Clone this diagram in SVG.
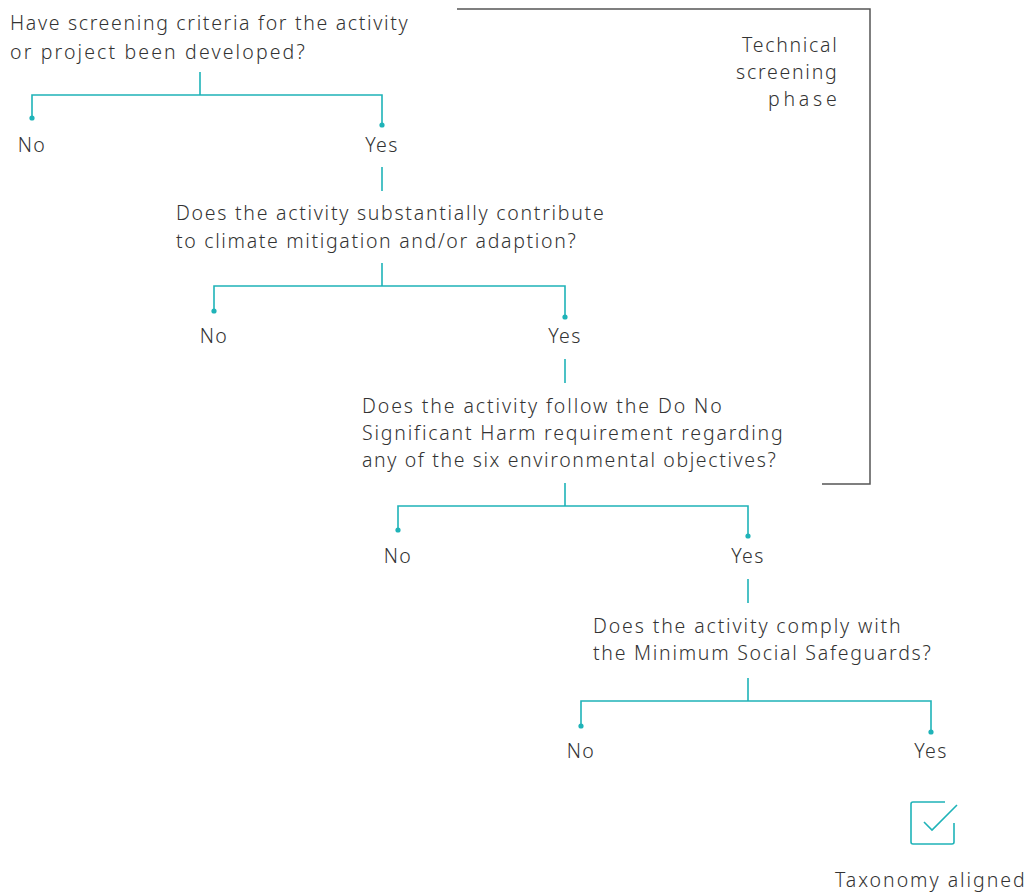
<svg xmlns="http://www.w3.org/2000/svg" width="1027" height="892" viewBox="0 0 1027 892">
<defs>
<style>
.t{font-family:"Noto Sans","Liberation Sans",sans-serif;font-size:19.5px;font-weight:300;letter-spacing:1.3px;fill:#333;}
.m{text-anchor:middle;}
.e{text-anchor:end;}
.c{stroke:#1fb3b8;stroke-width:1.6;fill:none;}
.d{fill:#1fb3b8;}
.b{stroke:#555;stroke-width:1.5;fill:none;}
</style>
</defs>
<rect width="1027" height="892" fill="#fff"/>
<g id="connectors">
<path class="c" d="M200 72V95M32 118V95H382V125"/>
<circle class="d" cx="32" cy="118" r="2.6"/><circle class="d" cx="382" cy="125" r="2.6"/>
<path class="c" d="M382 167V191"/>
<path class="c" d="M382 263V286M214 311V286H565V317"/>
<circle class="d" cx="214" cy="311" r="2.6"/><circle class="d" cx="565" cy="317" r="2.6"/>
<path class="c" d="M565 359V383"/>
<path class="c" d="M565 483V506M398 530V506H748V536"/>
<circle class="d" cx="398" cy="530" r="2.6"/><circle class="d" cx="748" cy="536" r="2.6"/>
<path class="c" d="M748 579V603"/>
<path class="c" d="M748 678V701M581 726V701H931V732"/>
<circle class="d" cx="581" cy="726" r="2.6"/><circle class="d" cx="931" cy="732" r="2.6"/>
</g>
<g id="phase-bracket">
<path class="b" d="M457 9H870V484H822"/>
<text class="t" x="742" y="52" textLength="96">Technical</text>
<text class="t" x="736" y="79" textLength="102">screening</text>
<text class="t" x="768" y="106" textLength="70">phase</text>
</g>
<g id="q1"><text class="t" x="10" y="30" textLength="399">Have screening criteria for the activity</text><text class="t" x="10" y="59" textLength="296">or project been developed?</text></g>
<g id="no1"><text class="t m" x="32" y="152">No</text></g>
<g id="yes1"><text class="t m" x="382" y="152">Yes</text></g>
<g id="q2"><text class="t" x="176" y="220" textLength="429">Does the activity substantially contribute</text><text class="t" x="176" y="248" textLength="401">to climate mitigation and/or adaption?</text></g>
<g id="no2"><text class="t m" x="214" y="343">No</text></g>
<g id="yes2"><text class="t m" x="565" y="343">Yes</text></g>
<g id="q3"><text class="t" x="362" y="413" textLength="361">Does the activity follow the Do No</text><text class="t" x="362" y="440" textLength="422">Significant Harm requirement regarding</text><text class="t" x="362" y="467" textLength="415">any of the six environmental objectives?</text></g>
<g id="no3"><text class="t m" x="398" y="563">No</text></g>
<g id="yes3"><text class="t m" x="748" y="563">Yes</text></g>
<g id="q4"><text class="t" x="593" y="633" textLength="309">Does the activity comply with</text><text class="t" x="593" y="660" textLength="339">the Minimum Social Safeguards?</text></g>
<g id="no4"><text class="t m" x="581" y="758">No</text></g>
<g id="yes4"><text class="t m" x="931" y="758">Yes</text></g>
<g id="taxonomy-aligned">
<path class="c" d="M945 802H913Q911 802 911 804V842Q911 844 913 844H952Q954 844 954 842V823" stroke-width="1.8"/>
<path class="c" d="M924 822L932 830L957 805" stroke-width="1.8"/>
<text class="t" x="835" y="887" textLength="191">Taxonomy aligned</text>
</g>
</svg>
